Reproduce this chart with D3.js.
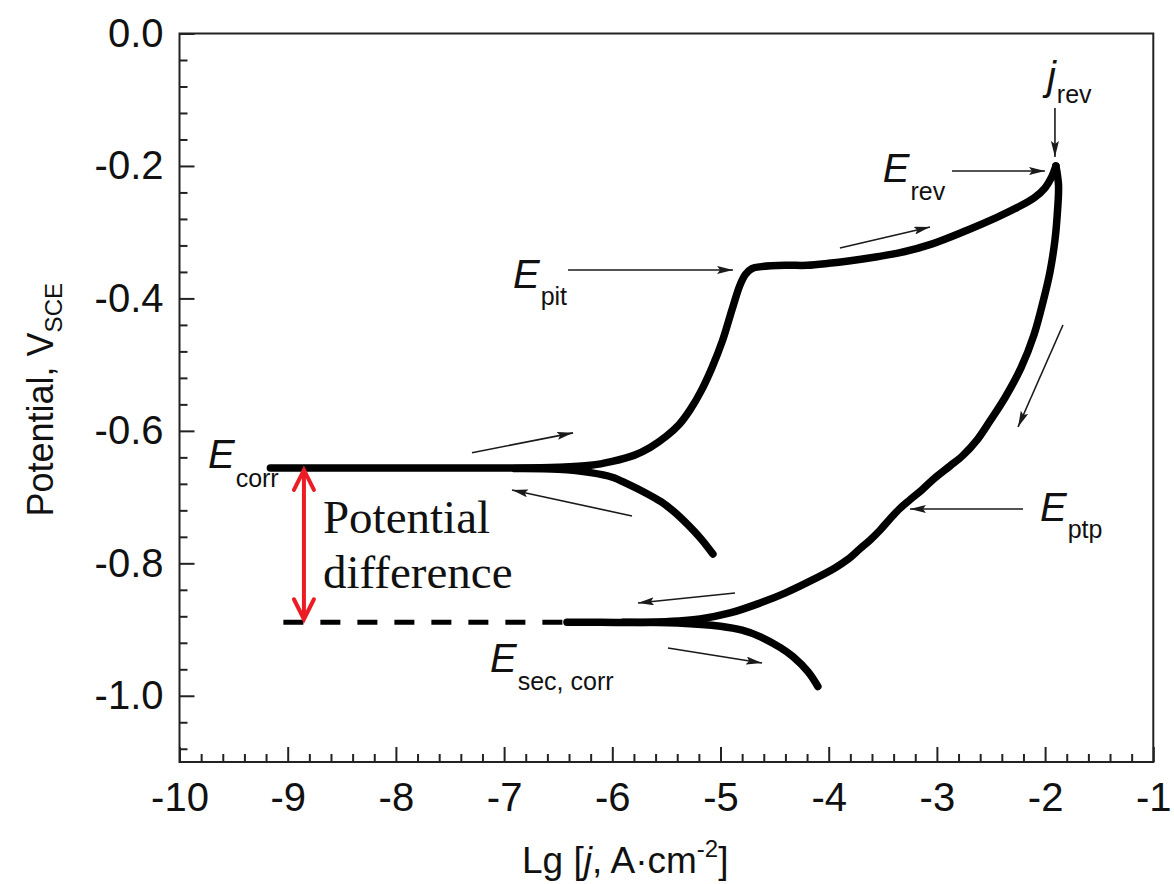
<!DOCTYPE html>
<html>
<head>
<meta charset="utf-8">
<script src="https://cdn.jsdelivr.net/npm/d3@7"></script>
<style>
  body { margin: 0; background: #fff; }
  svg { display: block; }
</style>
</head>
<body>
<svg id="chart" width="1174" height="884"></svg>
<script>
// Cyclic potentiodynamic polarization curve: Lg j (A·cm^-2) vs potential (V vs SCE)

// Forward (anodic) scan from Ecorr up to the reversal point
const forwardLgJ = [-9.16, -8.0, -7.0, -6.5, -6.2, -6.0, -5.8, -5.65, -5.5, -5.38, -5.28, -5.18, -5.08, -4.98, -4.89, -4.82, -4.77, -4.71, -4.62, -4.40, -4.20, -4.00, -3.80, -3.55, -3.34, -3.05, -2.72, -2.45, -2.26, -2.10, -2.00, -1.94, -1.90];
const forwardE   = [-0.656, -0.656, -0.656, -0.655, -0.652, -0.646, -0.637, -0.625, -0.608, -0.590, -0.568, -0.540, -0.505, -0.463, -0.415, -0.380, -0.364, -0.355, -0.352, -0.350, -0.350, -0.347, -0.343, -0.337, -0.331, -0.318, -0.297, -0.278, -0.263, -0.248, -0.233, -0.217, -0.200];

// Reverse scan from the reversal point down to the second corrosion potential
const reverseLgJ = [-1.90, -1.876, -1.885, -1.909, -1.955, -2.019, -2.103, -2.223, -2.371, -2.509, -2.630, -2.759, -2.879, -3.018, -3.138, -3.249, -3.341, -3.434, -3.526, -3.619, -3.711, -3.822, -3.942, -4.173, -4.404, -4.635, -4.912, -5.190, -5.652, -6.114, -6.419];
const reverseE   = [-0.200, -0.229, -0.267, -0.312, -0.360, -0.405, -0.455, -0.505, -0.550, -0.585, -0.614, -0.637, -0.653, -0.671, -0.689, -0.704, -0.717, -0.733, -0.750, -0.765, -0.778, -0.794, -0.807, -0.827, -0.845, -0.860, -0.875, -0.884, -0.889, -0.889, -0.889];

// Cathodic branch below Ecorr
const cathodic1LgJ = [-6.90, -6.50, -6.20, -6.00, -5.86, -5.70, -5.55, -5.43, -5.30, -5.18, -5.07];
const cathodic1E   = [-0.657, -0.658, -0.663, -0.670, -0.680, -0.693, -0.707, -0.722, -0.742, -0.763, -0.786];

// Cathodic branch below the second corrosion potential
const cathodic2LgJ = [-5.90, -5.40, -5.00, -4.80, -4.63, -4.45, -4.33, -4.19, -4.10];
const cathodic2E   = [-0.889, -0.890, -0.895, -0.901, -0.911, -0.927, -0.941, -0.964, -0.986];

// Characteristic potentials
const eCorr = -0.656;
const eSecCorr = -0.889;
const eCorrStartLgJ = -9.04;
const eSecCorrEndLgJ = -6.42;
const diffArrowLgJ = -8.85;

// Axis ticks
const xTickValues = [-10, -9, -8, -7, -6, -5, -4, -3, -2, -1];
const xTickLabels = ["-10", "-9", "-8", "-7", "-6", "-5", "-4", "-3", "-2", "-1"];
const yTickValues = [0, -0.2, -0.4, -0.6, -0.8, -1.0];
const yTickLabels = ["0.0", "-0.2", "-0.4", "-0.6", "-0.8", "-1.0"];

// Scan-direction and marker arrows, in data units: [x1, y1, x2, y2]
const pointerArrows = [
  [-7.297, -0.633, -6.363, -0.603],
  [-5.818, -0.7285, -6.927, -0.6893],
  [-6.409, -0.357, -4.884, -0.357],
  [-3.896, -0.3239, -3.064, -0.2922],
  [-2.860, -0.2076, -2.001, -0.2076],
  [-1.909, -0.1125, -1.909, -0.1865],
  [-1.835, -0.4401, -2.250, -0.5941],
  [-2.204, -0.718, -3.249, -0.718],
  [-4.866, -0.8448, -5.763, -0.8599],
  [-5.485, -0.9278, -4.616, -0.9505]
];

// Point labels: main symbol, subscript, anchor in data units
const pointLabels = [
  { main: "E", sub: "corr", lgj: -9.737, e: -0.656, subDy: 19 },
  { main: "E", sub: "pit", lgj: -6.918, e: -0.3843, subDy: 17 },
  { main: "E", sub: "rev", lgj: -3.500, e: -0.2243, subDy: 18 },
  { main: "j", sub: "rev", lgj: -1.983, e: -0.0853, subDy: 13 },
  { main: "E", sub: "ptp", lgj: -2.047, e: -0.736, subDy: 17 },
  { main: "E", sub: "sec, corr", lgj: -7.130, e: -0.964, subDy: 18 }
];

const W = 1174, H = 884;
const svg = d3.select("#chart");
svg.append("rect").attr("width", W).attr("height", H).attr("fill", "#fff");

const x = d3.scaleLinear().domain([-10, -1]).range([179.5, 1153.3]);
const y = d3.scaleLinear().domain([0, -1.1]).range([33.5, 762]);

const sans = "'Liberation Sans', Arial, Helvetica, sans-serif";
const serif = "'Liberation Serif', 'Times New Roman', serif";
const axisColor = "#222";

// Minor ticks
const xMinor = d3.range(0, 46).filter(i => i % 5 !== 0).map(i => -10 + i * 0.2);
const yMinor = d3.range(0, 28).filter(i => i % 5 !== 0).map(i => -i * 0.04);

const gxMinor = svg.append("g").attr("transform", `translate(0,${y(-1.1)})`)
  .call(d3.axisBottom(x).tickValues(xMinor).tickFormat("").tickSize(-8).tickSizeOuter(0));
const gyMinor = svg.append("g").attr("transform", `translate(${x(-10)},0)`)
  .call(d3.axisLeft(y).tickValues(yMinor).tickFormat("").tickSize(-8).tickSizeOuter(0));

const gx = svg.append("g").attr("transform", `translate(0,${y(-1.1)})`)
  .call(d3.axisBottom(x).tickValues(xTickValues)
    .tickFormat((d, i) => xTickLabels[i]).tickSize(-15).tickSizeOuter(0).tickPadding(21));
const gy = svg.append("g").attr("transform", `translate(${x(-10)},0)`)
  .call(d3.axisLeft(y).tickValues(yTickValues)
    .tickFormat((d, i) => yTickLabels[i]).tickSize(-15).tickSizeOuter(0).tickPadding(16));

[gxMinor, gyMinor, gx, gy].forEach(g => {
  g.select(".domain").remove();
  g.selectAll(".tick line").attr("stroke", axisColor).attr("stroke-width", 2);
  g.selectAll(".tick text").attr("fill", "#111").style("font-family", sans).style("font-size", "40px");
});

// Plot frame
svg.append("rect")
  .attr("x", x(-10)).attr("y", y(0))
  .attr("width", x(-1) - x(-10)).attr("height", y(-1.1) - y(0))
  .attr("fill", "none").attr("stroke", axisColor).attr("stroke-width", 2);

// Axis titles
const yTitle = svg.append("text")
  .attr("transform", `translate(53,${(y(0) + y(-1.1)) / 2 + 2}) rotate(-90)`)
  .attr("text-anchor", "middle")
  .style("font-family", sans).style("font-size", "36px").attr("fill", "#111");
yTitle.append("tspan").text("Potential, V");
yTitle.append("tspan").attr("dy", 9).style("font-size", "24px").text("SCE");

const xTitle = svg.append("text")
  .attr("x", 522).attr("y", 873)
  .style("font-family", sans).style("font-size", "37px").attr("fill", "#111");
xTitle.append("tspan").text("Lg [");
xTitle.append("tspan").style("font-style", "italic").text("j");
xTitle.append("tspan").text(", A·cm");
xTitle.append("tspan").attr("dy", -16).style("font-size", "24px").text("-2");
xTitle.append("tspan").attr("dy", 16).text("]");

// Curves
const zip = (xs, ys) => xs.map((v, i) => [v, ys[i]]);
const line = d3.line().x(d => x(d[0])).y(d => y(d[1])).curve(d3.curveCatmullRom.alpha(0.5));

const curveStyle = sel => sel.attr("fill", "none").attr("stroke", "#000")
  .attr("stroke-width", 7.5).attr("stroke-linecap", "round").attr("stroke-linejoin", "round");

// Second corrosion potential reference (dashed)
svg.append("line")
  .attr("x1", x(eCorrStartLgJ)).attr("x2", x(eSecCorrEndLgJ))
  .attr("y1", y(eSecCorr)).attr("y2", y(eSecCorr))
  .attr("stroke", "#000").attr("stroke-width", 5).attr("stroke-dasharray", "20 17");

svg.append("path").datum(zip(forwardLgJ, forwardE)).attr("d", line).call(curveStyle);
svg.append("path").datum(zip(reverseLgJ, reverseE)).attr("d", line).call(curveStyle);
svg.append("path").datum(zip(cathodic1LgJ, cathodic1E)).attr("d", line).call(curveStyle);
svg.append("path").datum(zip(cathodic2LgJ, cathodic2E)).attr("d", line).call(curveStyle);

// Thin pointer arrows
const defs = svg.append("defs");
defs.append("marker")
  .attr("id", "pointer-head")
  .attr("viewBox", "0 0 16 8").attr("refX", 16).attr("refY", 4)
  .attr("markerWidth", 16).attr("markerHeight", 8)
  .attr("markerUnits", "userSpaceOnUse").attr("orient", "auto")
  .append("path").attr("d", "M0,0 L16,4 L0,8 L3,4 Z").attr("fill", "#1a1a1a");

svg.append("g").selectAll("line").data(pointerArrows).join("line")
  .attr("x1", d => x(d[0])).attr("y1", d => y(d[1]))
  .attr("x2", d => x(d[2])).attr("y2", d => y(d[3]))
  .attr("stroke", "#1a1a1a").attr("stroke-width", 1.6)
  .attr("marker-end", "url(#pointer-head)");

// Red double-headed arrow between Ecorr and Esec,corr
const red = "#ec1c24";
const ax = x(diffArrowLgJ), aTop = y(eCorr) + 2, aBot = y(eSecCorr) - 3;
const redG = svg.append("g").attr("fill", "none").attr("stroke", red)
  .attr("stroke-width", 4).attr("stroke-linecap", "round").attr("stroke-linejoin", "miter");
redG.append("line").attr("x1", ax).attr("x2", ax).attr("y1", aTop + 2).attr("y2", aBot - 2);
redG.append("path").attr("d", `M${ax - 10},${aTop + 20} L${ax},${aTop} L${ax + 10},${aTop + 20}`);
redG.append("path").attr("d", `M${ax - 10},${aBot - 20} L${ax},${aBot} L${ax + 10},${aBot - 20}`);

// Potential difference caption
const cap = svg.append("text")
  .style("font-family", serif).style("font-size", "47px").attr("fill", "#111");
cap.append("tspan").attr("x", x(-8.674)).attr("y", y(-0.754)).text("Potential");
cap.append("tspan").attr("x", x(-8.674)).attr("y", y(-0.837)).text("difference");

// Point labels with italic symbol and subscript
const lbl = svg.append("g").selectAll("text").data(pointLabels).join("text")
  .attr("x", d => x(d.lgj)).attr("y", d => y(d.e))
  .style("font-family", sans).attr("fill", "#111");
lbl.append("tspan").style("font-style", "italic").style("font-size", "40px").text(d => d.main);
lbl.append("tspan").attr("dx", 1).attr("dy", d => d.subDy).style("font-size", "25px").text(d => d.sub);
</script>
</body>
</html>
